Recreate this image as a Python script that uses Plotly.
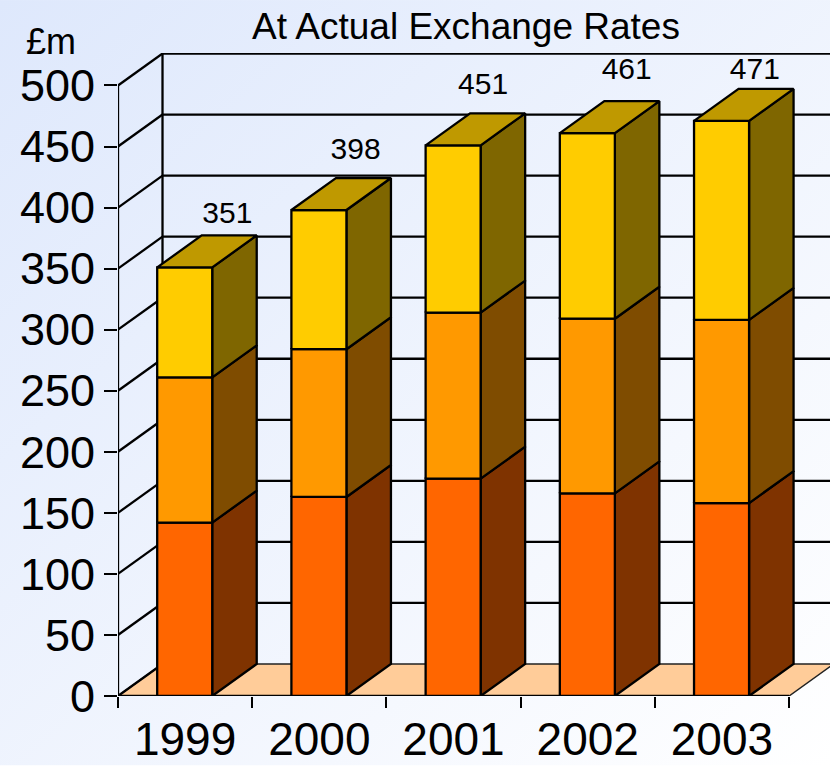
import base64
import plotly.graph_objects as go

years = ["1999", "2000", "2001", "2002", "2003"]
seg_bottom = [142, 163, 178, 166, 158]
seg_middle = [119, 121, 136, 143, 150]
seg_top = [90, 114, 137, 152, 163]
totals = [351, 398, 451, 461, 471]
y_ticks = [0, 50, 100, 150, 200, 250, 300, 350, 400, 450, 500]

# style and projection
front_colors = ["#FF6600", "#FF9900", "#FFCC00"]
side_colors = ["#7F3300", "#7F4C00", "#7F6600"]
roof_color = "#BF9900"
floor_color = "#FFCC99"
font = "Liberation Sans"
W, H = 830, 766
left, right, top, bottom = 118, 0, 53, 69.5
dx = 0.3316    # depth of the box in category units
dy = 26.2      # depth of the box in value units
bar_w = 0.41
bar_nudge = -0.003
x_max = 5.305
y_top = 526.6
label_gap = [16, 22, 22, 24, 14]
label_shift = [0.08, 0.035, -0.015, 0.055, 0.01]
line_w = 2.3

fig = go.Figure()


def poly(xs, ys, fill=None, width=line_w, color="#000000", clip=True):
    fig.add_trace(go.Scatter(
        x=xs, y=ys, mode="lines",
        fill="toself" if fill else None,
        fillcolor=fill,
        line=dict(color=color, width=width),
        cliponaxis=clip,
        hoverinfo="skip", showlegend=False,
    ))


n = len(years)
# floor
poly([0, dx, n + dx, n, 0], [0, dy, dy, 0, 0], fill=floor_color, width=1.5, color="#222222")
# back wall and side wall
for t in y_ticks:
    if t > 0:
        poly([dx, n + dx], [t + dy, t + dy])
    poly([0, dx], [t, t + dy], clip=False)
poly([dx, dx], [dy, y_top], clip=False)
# front axes
poly([0, 0], [0, y_ticks[-1]], clip=False)
poly([0, n], [0, 0], clip=False)

# bars, left to right
for i in range(n):
    x0 = i + 0.5 - bar_w / 2 + bar_nudge
    x1 = x0 + bar_w
    lo = 0
    for seg, front, side in zip([seg_bottom[i], seg_middle[i], seg_top[i]], front_colors, side_colors):
        hi = lo + seg
        poly([x1, x1 + dx, x1 + dx, x1, x1], [lo, lo + dy, hi + dy, hi, lo], fill=side)
        poly([x0, x1, x1, x0, x0], [lo, lo, hi, hi, lo], fill=front, clip=False)
        lo = hi
    poly([x0, x1, x1 + dx, x0 + dx, x0], [lo, lo, lo + dy, lo + dy, lo], fill=roof_color)

# value labels above the bars
fig.add_trace(go.Scatter(
    x=[i + 0.5 + dx * 0.95 - 0.08 + label_shift[i] for i in range(n)],
    y=[totals[i] + dy + label_gap[i] for i in range(n)],
    mode="text",
    text=[str(v) for v in totals],
    textposition="middle center",
    textfont=dict(family=font, size=30, color="#000000"),
    cliponaxis=False, hoverinfo="skip", showlegend=False,
))

plot_w = W - left - right
plot_h = H - top - bottom
svg = (
    '<svg xmlns="http://www.w3.org/2000/svg" width="830" height="766">'
    '<defs><linearGradient id="g" x1="0" y1="0" x2="1" y2="1">'
    '<stop offset="0" stop-color="#DEE8FC"/><stop offset="1" stop-color="#FFFFFF"/>'
    '</linearGradient></defs><rect width="830" height="766" fill="url(#g)"/></svg>'
)
bg = "data:image/svg+xml;base64," + base64.b64encode(svg.encode()).decode()

fig.update_layout(
    width=W, height=H,
    margin=dict(l=left, r=right, t=top, b=bottom, pad=0),
    paper_bgcolor="rgba(0,0,0,0)",
    plot_bgcolor="rgba(0,0,0,0)",
    showlegend=False,
    title=dict(
        text="At Actual Exchange Rates", x=466 / W, xanchor="center",
        y=1 - 26 / H, yanchor="middle",
        font=dict(family=font, size=37, color="#000000"),
    ),
    images=[dict(
        source=bg, xref="paper", yref="paper",
        x=-left / plot_w, y=1 + top / plot_h,
        sizex=W / plot_w, sizey=H / plot_h,
        xanchor="left", yanchor="top", sizing="stretch", layer="below",
    )],
    annotations=[dict(
        text="£m", xref="paper", yref="paper",
        x=(51 - left) / plot_w, y=1 + (53 - 41) / plot_h,
        xanchor="center", yanchor="middle", showarrow=False,
        font=dict(family=font, size=36, color="#000000"),
    )],
    xaxis=dict(
        range=[0, x_max], showgrid=False, zeroline=False, showline=False, ticks="",
        automargin=False,
        tickmode="array", tickvals=[i + 0.5 for i in range(n)], ticktext=years,
        tickfont=dict(family=font, size=46, color="#000000"),
        ticklabelstandoff=12,
        minor=dict(
            tickmode="array", tickvals=list(range(n + 1)),
            ticks="outside", ticklen=11, tickwidth=2, tickcolor="#000000", showgrid=False,
        ),
    ),
    yaxis=dict(
        range=[0, y_top], showgrid=False, zeroline=False, showline=False,
        automargin=False,
        tickmode="array", tickvals=y_ticks, ticks="outside", ticklen=13,
        tickwidth=2, tickcolor="#000000",
        tickfont=dict(family=font, size=45, color="#000000"),
    ),
)

fig.write_html("out.html", config=dict(displayModeBar=False), post_script="document.body.style.margin='0';")
